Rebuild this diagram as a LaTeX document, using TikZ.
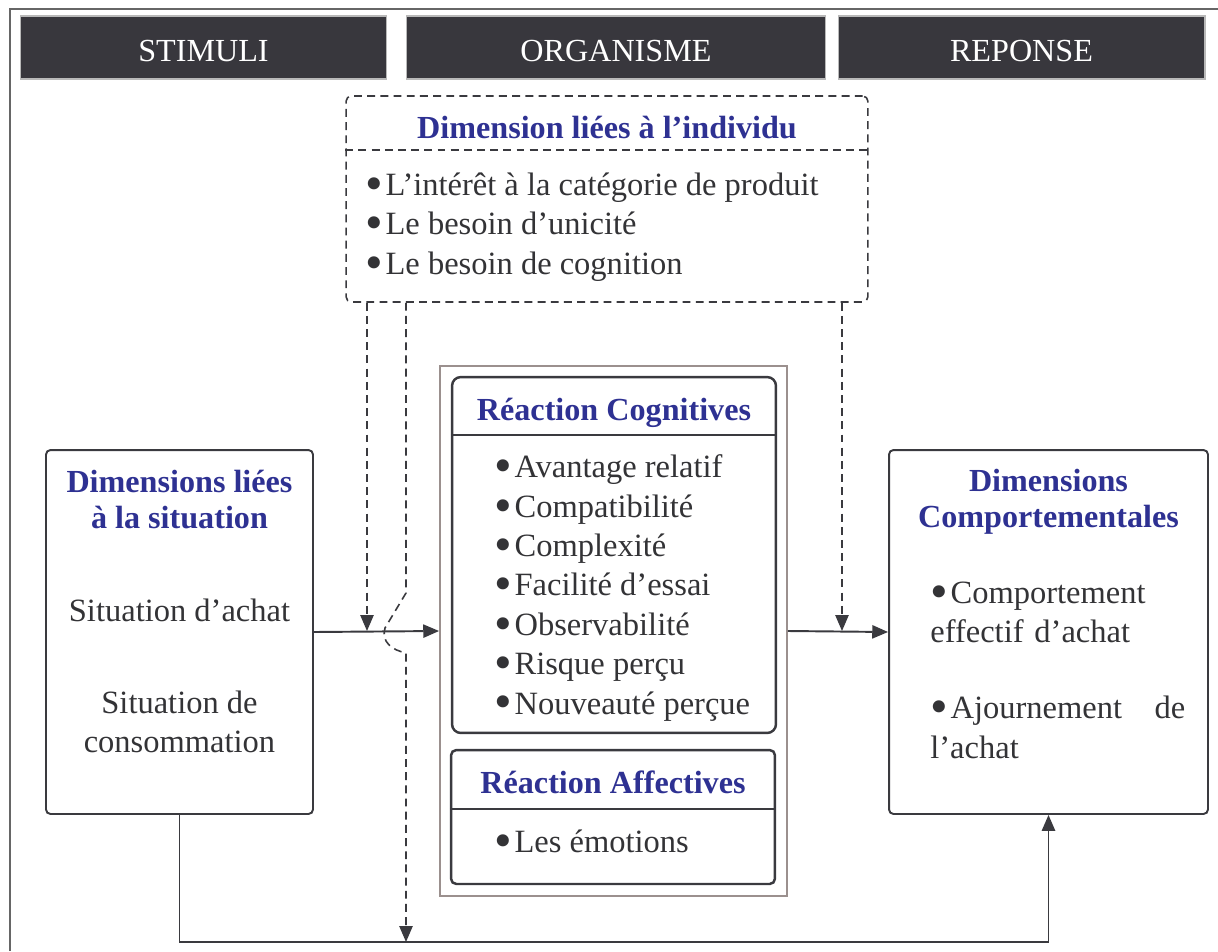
\documentclass[tikz,border=0pt]{standalone}
\usepackage{fontspec}
\setmainfont{Liberation Serif}
\usetikzlibrary{arrows.meta}

\definecolor{barfill}{HTML}{38373D}
\definecolor{linegray}{HTML}{3A3A3F}
\definecolor{textgray}{HTML}{333336}
\definecolor{titleblue}{HTML}{2E3192}
\definecolor{orgline}{HTML}{9B908E}
\newcommand{\itembul}{\smash{\raisebox{-0.15em}{\scalebox{1.55}{\textbullet}}}\kern1.5pt}

\tikzset{
  headbar/.style={fill=barfill, draw=gray!55, line width=0.6pt, text=white, minimum height=1.26cm, inner sep=0pt, text height=15.5pt, text depth=0pt, font=\fontsize{18.3}{22}\selectfont},
  sidebox/.style={draw=linegray, line width=1.1pt, rounded corners=2.5pt, minimum height=7.28cm, inner sep=0pt},
  innerbox/.style={draw=linegray, line width=1.4pt, rounded corners=5pt, minimum width=6.48cm, inner sep=0pt},
  boxtitle/.style={text=titleblue, font=\fontsize{18.3}{20.5}\selectfont\bfseries, align=center, inner sep=0pt},
  body/.style={text=textgray, font=\fontsize{18.5}{22.4}\selectfont, align=left, inner sep=0pt},
  dashline/.style={draw=linegray, line width=0.9pt, dash pattern=on 4.5pt off 3pt},
  arr/.style={draw=linegray, line width=1.1pt, -{Triangle[length=9pt,width=7.5pt]}},
  dasharr/.style={dashline, -{Triangle[length=9pt,width=7.5pt]}},
}

\begin{document}
\begin{tikzpicture}[x=0.02cm, y=-0.02cm]
\useasboundingbox (0,0) rectangle (1218,951);
% outer frame
\draw [gray!80!black, line width=1pt] (10,951) -- (10,9) -- (1218,9);

% headers
\node [headbar, minimum width=7.34cm] (stimuli) at (203.5,47.5) {STIMULI};
\node [headbar, minimum width=8.4cm] (organisme) at (616,47.5) {ORGANISME};
\node [headbar, minimum width=7.34cm] (reponse) at (1021.5,47.5) {REPONSE};

% dimensions liees a l'individu
\node [dashline, rounded corners=3pt, minimum width=10.44cm, minimum height=4.12cm, inner sep=0pt] (indiv) at (607,199) {};
\draw [dashline] ([yshift=-1.1cm]indiv.north west) -- ([yshift=-1.1cm]indiv.north east);
\node [boxtitle] (indivtitle) at (607,128) {Dimension liées à l’individu};
\node [body, anchor=west] (indivlist) at (365,227) {\itembul L’intérêt à la catégorie de produit\\ \itembul Le besoin d’unicité\\ \itembul Le besoin de cognition};

% stimuli box
\node [sidebox, minimum width=5.34cm] (situ) at (179.5,632) {};
\node [boxtitle] (situtitle) at (179.5,500) {Dimensions liées\\ à la situation};
\node [body, align=center] (achat) at (179.5,610) {Situation d’achat};
\node [body, align=center] (conso) at (179.5,722) {Situation de\\ consommation};

% organisme
\node [draw=orgline, line width=1.1pt, minimum width=6.94cm, minimum height=10.6cm, inner sep=0pt] (orgframe) at (613.5,631) {};
\node [innerbox, minimum height=7.12cm] (cogn) at (614,555) {};
\draw [linegray, line width=1.1pt] ([yshift=-1.18cm]cogn.north west) -- ([yshift=-1.18cm]cogn.north east);
\node [boxtitle] (cogntitle) at (614,413) {Réaction Cognitives};
\node [body, anchor=west] (cognlist) at (494,588) {\itembul Avantage relatif\\ \itembul Compatibilité\\ \itembul Complexité\\ \itembul Facilité d’essai\\ \itembul Observabilité\\ \itembul Risque perçu\\ \itembul Nouveauté perçue};
\node [innerbox, rounded corners=3pt, minimum height=2.68cm] (affe) at (613,817) {};
\draw [linegray, line width=1.1pt] ([yshift=-1.2cm]affe.north west) -- ([yshift=-1.2cm]affe.north east);
\node [boxtitle] (affetitle) at (613,782) {Réaction Affectives};
\node [body, anchor=west] (affelist) at (494,841) {\itembul Les émotions};

% reponse box
\node [sidebox, minimum width=6.38cm] (comp) at (1048.5,632) {};
\node [boxtitle] (comptitle) at (1048.5,502) {Dimensions\\ Comportementales};
\node [body, anchor=west, text width=5.1cm] (complist) at (930,670) {\itembul Comportement\\ effectif d’achat\\[21pt] \itembul Ajournement\hfill de\\ l’achat};

% connectors
\coordinate (hopin) at (367,631);
\coordinate (hopout) at (842,631);
\coordinate (botline) at (406,942);
\draw [arr] (situ.east) -- (orgframe.west);
\draw [arr] (orgframe.east) -- (comp.west);
\draw [arr] (situ.south) -- (situ.south |- botline) -| (comp.south);
\draw [dasharr] (hopin |- indiv.south) -- (hopin);
\draw [dasharr] (hopout |- indiv.south) -- (hopout);
\draw [dasharr] (botline |- indiv.south) -- (406,593) -- (385,628) .. controls (381,642) and (392,650) .. (406,653) -- (botline);
\end{tikzpicture}
\end{document}
